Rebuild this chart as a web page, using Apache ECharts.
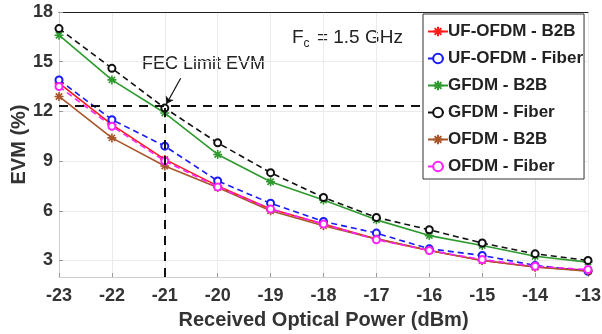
<!DOCTYPE html>
<html lang="en">
<head>
<meta charset="UTF-8">
<title>EVM vs received optical power</title>
<script src="https://cdn.jsdelivr.net/npm/echarts@6/dist/echarts.min.js"></script>
<style>
  html, body { margin: 0; padding: 0; background: #fff; }
  #main { width: 602px; height: 334px; }
</style>
</head>
<body>
<div id="main"></div>
<script>
    // received optical power (dBm)
    var power = [-23, -22, -21, -20, -19, -18, -17, -16, -15, -14, -13];
    var yTicks = [3, 6, 9, 12, 15, 18];

    // EVM (%)
    var ufofdmB2B   = [13.7, 11.2, 9.1, 7.5, 6.1, 5.2, 4.3, 3.6, 3.0, 2.6, 2.4];
    var ufofdmFiber = [13.9, 11.5, 9.9, 7.8, 6.45, 5.35, 4.65, 3.7, 3.3, 2.7, 2.35];
    var gfdmB2B     = [16.6, 13.9, 11.9, 9.4, 7.75, 6.65, 5.45, 4.5, 3.9, 3.25, 2.9];
    var gfdmFiber   = [17.0, 14.6, 12.2, 10.1, 8.3, 6.8, 5.6, 4.85, 4.05, 3.4, 3.0];
    var ofdmB2B     = [12.9, 10.4, 8.7, 7.4, 6.0, 5.1, 4.3, 3.6, 3.0, 2.6, 2.35];
    var ofdmFiber   = [13.5, 11.1, 9.0, 7.44, 6.1, 5.2, 4.25, 3.6, 3.05, 2.65, 2.45];

    var fecLimit = 12.35;
    var fecPower = -21;
    var fecLineEnd = -16.1; // dashed limit runs up to the legend box

    var asterisk = 'path://M0,-10L0,10M-10,0L10,0M-7,-7L7,7M-7,7L7,-7';

    function pairs(arr) {
        return arr.map(function (v, i) { return [power[i], v]; });
    }

    function mkSeries(name, data, color, dashed, marker) {
        return {
            name: name,
            type: 'line',
            data: pairs(data),
            symbol: marker,
            symbolSize: marker === asterisk ? 9 : 7,
            showAllSymbol: true,
            lineStyle: { color: color, width: 1.6, type: dashed ? [6, 4] : 'solid' },
            itemStyle: { color: color, borderColor: color, borderWidth: 1.6 },
            emphasis: { disabled: true },
            animation: false
        };
    }

    var FONT = '"Liberation Sans", Arial, sans-serif';
    var chart = echarts.init(document.getElementById('main'));

    var series = [
        mkSeries('UF-OFDM - B2B', ufofdmB2B, '#ff1a1a', false, asterisk),
        mkSeries('UF-OFDM - Fiber', ufofdmFiber, '#1a1aff', true, 'emptyCircle'),
        mkSeries('GFDM - B2B', gfdmB2B, '#2e9a2e', false, asterisk),
        mkSeries('GFDM - Fiber', gfdmFiber, '#111111', true, 'emptyCircle'),
        mkSeries('OFDM - B2B', ofdmB2B, '#a8552a', false, asterisk),
        mkSeries('OFDM - Fiber', ofdmFiber, '#ff22ff', true, 'emptyCircle')
    ];

    // FEC limit lines and the arrow pointing at the crossing
    series.push({
        type: 'line',
        data: [],
        silent: true,
        animation: false,
        markLine: {
            silent: true,
            symbol: 'none',
            animation: false,
            label: { show: false },
            lineStyle: { color: '#111', width: 2, type: [9, 7] },
            data: [
                [{ coord: [-23, fecLimit] }, { coord: [fecLineEnd, fecLimit] }],
                [{ coord: [fecPower, 2] }, { coord: [fecPower, fecLimit] }]
            ]
        }
    });
    series.push({
        type: 'line',
        data: [],
        silent: true,
        animation: false,
        markLine: {
            silent: true,
            symbol: ['none', 'arrow'],
            symbolSize: 7,
            animation: false,
            label: { show: false },
            lineStyle: { color: '#111', width: 1.2, type: 'solid' },
            data: [
                [{ coord: [-20.7, 14.0] }, { coord: [-20.97, 12.45] }]
            ]
        }
    });

    chart.setOption({
        animation: false,
        grid: { left: 59, right: 14, top: 12, bottom: 57, outerBoundsMode: 'none' },
        legend: {
            orient: 'vertical',
            left: 423,
            top: 14,
            z: 20,
            padding: [9, 1, 4, 4],
            itemGap: 10,
            itemWidth: 20,
            itemHeight: 12,
            backgroundColor: '#fff',
            borderColor: '#333',
            borderWidth: 1,
            textStyle: { fontFamily: FONT, fontWeight: 'bold', fontSize: 17, color: '#222', padding: [0, 0, 0, -5] },
            data: series.slice(0, 6).map(function (s) { return s.name; })
        },
        xAxis: [{
            type: 'value',
            min: -23,
            max: -13,
            interval: 1,
            name: 'Received Optical Power (dBm)',
            nameLocation: 'middle',
            nameGap: 33,
            nameTextStyle: { fontFamily: FONT, fontWeight: 'bold', fontSize: 20, color: '#333' },
            axisLine: { onZero: false, lineStyle: { color: '#cfcfcf' } },
            axisTick: { inside: true, length: 4, lineStyle: { color: '#999' } },
            axisLabel: { fontFamily: FONT, fontWeight: 'bold', fontSize: 18, color: '#333', margin: 10 },
            splitLine: { show: true, lineStyle: { color: '#ebebeb' } }
        }, {
            type: 'value',
            position: 'top',
            min: -23,
            max: -13,
            interval: 1,
            axisLine: { show: true, onZero: false, lineStyle: { color: '#222', width: 1 } },
            axisTick: { show: false },
            axisLabel: { show: false },
            splitLine: { show: false }
        }],
        yAxis: {
            type: 'value',
            min: 2,
            max: 18,
            name: 'EVM (%)',
            nameLocation: 'middle',
            nameGap: 30,
            nameMoveOverlap: false,
            nameTextStyle: { fontFamily: FONT, fontWeight: 'bold', fontSize: 20, color: '#333' },
            axisLine: { show: true, lineStyle: { color: '#cfcfcf' } },
            axisTick: { show: true, inside: true, length: 4, customValues: yTicks, lineStyle: { color: '#999' } },
            axisLabel: { fontFamily: FONT, fontWeight: 'bold', fontSize: 18, color: '#333', margin: 6, customValues: yTicks },
            splitLine: { show: true, lineStyle: { color: '#ebebeb' } }
        },
        graphic: [{
            type: 'text',
            left: 142,
            top: 55,
            style: { text: 'FEC Limit EVM', fontFamily: FONT, fontSize: 18, fill: '#222' }
        }, {
            type: 'text',
            left: 292,
            top: 28,
            style: {
                text: '{f|F}{s|c} = 1.5 GHz',
                fontFamily: FONT,
                fontSize: 19,
                fill: '#222',
                rich: {
                    f: { fontFamily: FONT, fontSize: 19, fill: '#222' },
                    s: { fontFamily: FONT, fontSize: 12, fill: '#222', verticalAlign: 'bottom', padding: [12, 2, 0, 0] }
                }
            }
        }],
        series: series
    });
</script>
</body>
</html>
